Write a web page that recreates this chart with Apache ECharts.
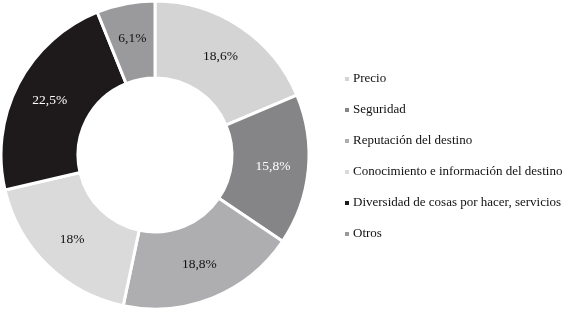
<!DOCTYPE html>
<html>
<head>
<meta charset="utf-8">
<script src="https://cdn.jsdelivr.net/npm/echarts@6/dist/echarts.min.js"></script>
<style>
html, body { margin: 0; padding: 0; background: #fff; }
#chart { width: 564px; height: 313px; }
</style>
</head>
<body>
<div id="chart"></div>
<script>
var categories = ['Precio', 'Seguridad', 'Reputación del destino', 'Conocimiento e información del destino', 'Diversidad de cosas por hacer, servicios', 'Otros'];
var values = [18.6, 15.8, 18.8, 18, 22.5, 6.1];
var labels = ['18,6%', '15,8%', '18,8%', '18%', '22,5%', '6,1%'];
var colors = ['#d4d4d4', '#858587', '#aeaeb0', '#dadada', '#1e1a1b', '#9a9a9c'];
var labelColors = ['#111', '#fff', '#111', '#111', '#fff', '#111'];

var data = [];
for (var i = 0; i < categories.length; i++) {
    data.push({
        name: categories[i],
        value: values[i],
        itemStyle: { color: colors[i] },
        label: { color: labelColors[i], formatter: labels[i] }
    });
}

var myChart = echarts.init(document.getElementById('chart'));
var option = {
    backgroundColor: '#fff',
    animation: false,
    legend: {
        orient: 'vertical',
        left: 338,
        top: 67,
        icon: 'rect',
        itemWidth: 6,
        itemHeight: 6,
        itemGap: 17,
        textStyle: {
            fontFamily: 'Liberation Serif',
            fontSize: 13,
            color: '#111',
            lineHeight: 14,
            padding: [0, 0, 0, -2]
        },
        data: categories
    },
    series: [{
        type: 'pie',
        center: [155, 155],
        radius: [77, 154],
        startAngle: 90,
        clockwise: true,
        avoidLabelOverlap: false,
        itemStyle: {
            borderColor: '#fff',
            borderWidth: 3
        },
        label: {
            show: true,
            position: 'inside',
            fontFamily: 'Liberation Serif',
            fontSize: 13.5
        },
        labelLine: { show: false },
        emphasis: { disabled: true },
        data: data
    }]
};
myChart.setOption(option);
</script>
</body>
</html>
